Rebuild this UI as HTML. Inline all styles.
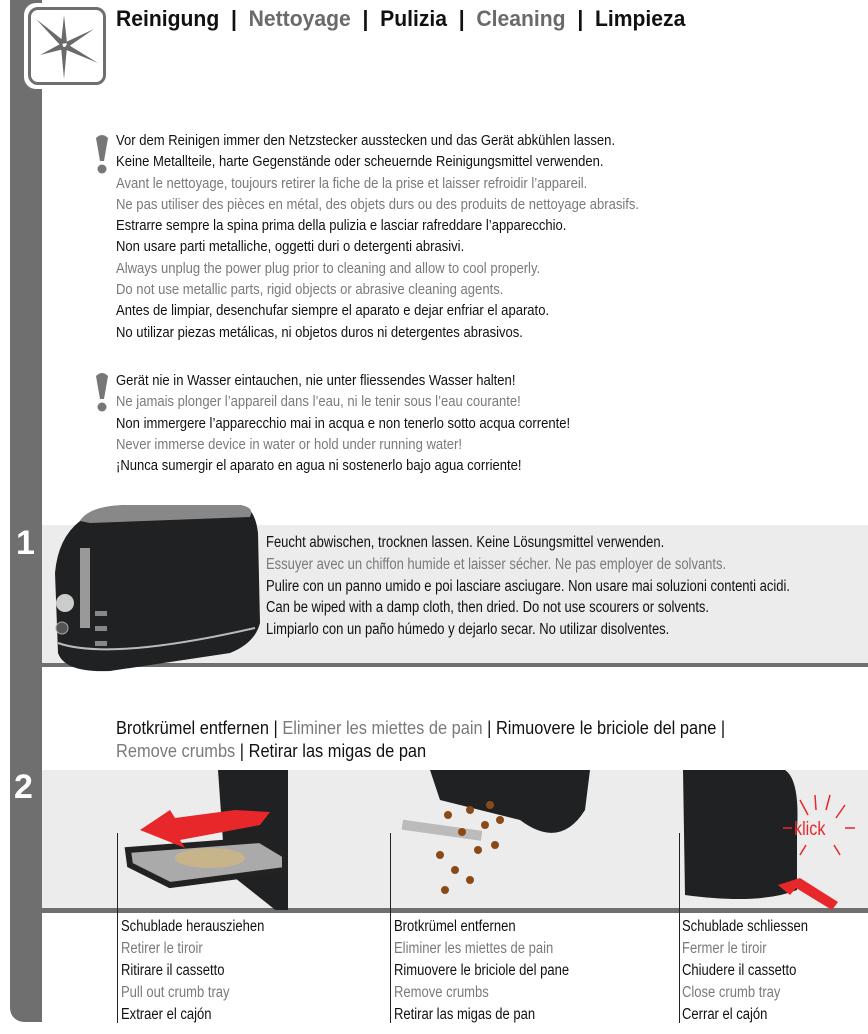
<!DOCTYPE html>
<html><head><meta charset="utf-8"><style>
*{margin:0;padding:0}
body{width:868px;height:1034px;position:relative;background:#fff;overflow:hidden;font-family:"Liberation Sans Narrow","Liberation Sans",sans-serif}
.a{position:absolute;white-space:nowrap}
.t{font-size:15px;line-height:21.3px;color:#111;transform-origin:0 0}
.g{color:#7a7a7a}
.h{font-size:22px;font-weight:bold;color:#111;top:6px;left:116px;transform:scaleX(0.96);transform-origin:0 0}
.h .g{color:#6a6a6a}
.s{font-size:18px;line-height:23px;color:#111;transform:scaleX(0.91);transform-origin:0 0}
.vl{position:absolute;width:1px;background:#222}
</style></head><body>
<div class="a" style="left:10px;top:0;width:32px;height:1022px;background:#6f6f6f;border-bottom-left-radius:14px"></div>
<div class="a" style="left:24px;top:3px;width:84px;height:86px;background:#fff;border-radius:12px"></div>
<div class="a" style="left:28px;top:7px;width:72px;height:72px;border:3px solid #6f6f6f;border-radius:10px;background:#fff"></div>
<svg class="a" style="left:28px;top:7px" width="78" height="78" viewBox="0 0 78 78">
<g fill="#6a6a6a"><polygon points="36,8 39,36 33,37"/><polygon points="36,72 33,40 39,40"/><polygon points="8,12 36,34 33,39"/><polygon points="70,56 39,37 36,42"/><polygon points="66,22 38,35 40,40"/><polygon points="12,48 34,36 36,42"/></g></svg>
<div class="a h">Reinigung &nbsp;|&nbsp; <span class="g">Nettoyage</span> &nbsp;|&nbsp; Pulizia &nbsp;|&nbsp; <span class="g">Cleaning</span> &nbsp;|&nbsp; Limpieza</div>

<svg class="a" style="left:94px;top:134px" width="16" height="42"><path d="M2,4 Q8,-2 14,4 L10,27 L6,27Z" fill="#777"/><circle cx="8" cy="35" r="4.5" fill="#777"/></svg>
<div class="a t" style="left:116px;top:130px;transform:scaleX(0.87)">Vor dem Reinigen immer den Netzstecker ausstecken und das Gerät abkühlen lassen.<br>Keine Metallteile, harte Gegenstände oder scheuernde Reinigungsmittel verwenden.<br><span class="g">Avant le nettoyage, toujours retirer la fiche de la prise et laisser refroidir l’appareil.<br>Ne pas utiliser des pièces en métal, des objets durs ou des produits de nettoyage abrasifs.</span><br>Estrarre sempre la spina prima della pulizia e lasciar rafreddare l’apparecchio.<br>Non usare parti metalliche, oggetti duri o detergenti abrasivi.<br><span class="g">Always unplug the power plug prior to cleaning and allow to cool properly.<br>Do not use metallic parts, rigid objects or abrasive cleaning agents.</span><br>Antes de limpiar, desenchufar siempre el aparato e dejar enfriar el aparato.<br>No utilizar piezas metálicas, ni objetos duros ni detergentes abrasivos.</div>

<svg class="a" style="left:94px;top:372px" width="16" height="42"><path d="M2,4 Q8,-2 14,4 L10,27 L6,27Z" fill="#777"/><circle cx="8" cy="35" r="4.5" fill="#777"/></svg>
<div class="a t" style="left:116px;top:370px;transform:scaleX(0.87)">Gerät nie in Wasser eintauchen, nie unter fliessendes Wasser halten!<br><span class="g">Ne jamais plonger l’appareil dans l’eau, ni le tenir sous l’eau courante!</span><br>Non immergere l’apparecchio mai in acqua e non tenerlo sotto acqua corrente!<br><span class="g">Never immerse device in water or hold under running water!</span><br>¡Nunca sumergir el aparato en agua ni sostenerlo bajo agua corriente!</div>

<div class="a" style="left:42px;top:525px;width:826px;height:139px;background:#ececec"></div>
<div class="a" style="left:42px;top:663px;width:826px;height:4px;background:#6f6f6f"></div>
<div class="a" style="left:16px;top:524px;font-size:34px;font-weight:bold;color:#fff">1</div>
<svg class="a" style="left:50px;top:493px" width="210" height="180" viewBox="0 0 210 180">
<path d="M30,28 Q40,12 80,12 L190,12 Q205,14 208,40 L210,130 Q205,150 180,160 L60,178 Q15,180 8,160 L5,80 Q8,45 30,28Z" fill="#1f2123"/>
<path d="M30,28 Q40,12 80,12 L190,12 Q205,14 200,24 L40,30Z" fill="#888"/>
<path d="M8,150 Q60,168 205,135" stroke="#bbb" stroke-width="2" fill="none"/>
<rect x="30" y="55" width="10" height="80" fill="#999"/>
<circle cx="15" cy="110" r="9" fill="#ccc"/><circle cx="12" cy="135" r="6" fill="#555" stroke="#aaa"/>
<rect x="45" y="118" width="12" height="5" fill="#888"/><rect x="45" y="133" width="12" height="5" fill="#888"/><rect x="45" y="148" width="12" height="5" fill="#888"/>
</svg>
<div class="a t" style="left:266px;top:532px;font-size:15.3px;line-height:21.8px;transform:scaleX(0.85)">Feucht abwischen, trocknen lassen. Keine Lösungsmittel verwenden.<br><span class="g">Essuyer avec un chiffon humide et laisser sécher. Ne pas employer de solvants.</span><br>Pulire con un panno umido e poi lasciare asciugare. Non usare mai soluzioni contenti acidi.<br>Can be wiped with a damp cloth, then dried. Do not use scourers or solvents.<br>Limpiarlo con un paño húmedo y dejarlo secar. No utilizar disolventes.</div>

<div class="a s" style="left:116px;top:717px">Brotkrümel entfernen | <span class="g">Eliminer les miettes de pain</span> | Rimuovere le briciole del pane |<br><span class="g">Remove crumbs</span> | Retirar las migas de pan</div>
<div class="a" style="left:42px;top:770px;width:826px;height:139px;background:#ececec"></div>
<div class="a" style="left:42px;top:908px;width:826px;height:5px;background:#6f6f6f"></div>
<div class="a" style="left:14px;top:768px;font-size:34px;font-weight:bold;color:#fff">2</div>
<svg class="a" style="left:0;top:770px" width="868" height="140">
<path d="M218,0 L288,0 L288,150 L225,100 Z" fill="#1f2123"/>
<path d="M128,80 L260,70 L285,85 L285,100 L170,115 L130,95Z" fill="#aaa" stroke="#222" stroke-width="6"/>
<ellipse cx="210" cy="88" rx="35" ry="10" fill="#c8b48a"/>
<polygon points="235,40 270,42 260,55 180,70 185,78 140,60 170,40 175,48" fill="#e8272a"/>
<path d="M430,0 L590,0 L585,40 Q560,80 520,50 L440,30Z" fill="#1f2123"/>
<rect x="402" y="55" width="80" height="10" fill="#bbb" transform="rotate(8 440 60)"/>
<g fill="#8a4a18"><circle cx="448" cy="45" r="4"/><circle cx="470" cy="40" r="4"/><circle cx="490" cy="35" r="4"/><circle cx="462" cy="62" r="4"/><circle cx="485" cy="55" r="4"/><circle cx="500" cy="50" r="4"/><circle cx="478" cy="80" r="4"/><circle cx="495" cy="75" r="4"/><circle cx="440" cy="85" r="4"/><circle cx="455" cy="100" r="4"/><circle cx="470" cy="110" r="4"/><circle cx="445" cy="120" r="4"/></g>
<path d="M683,0 L785,0 Q800,10 797,60 L797,120 Q760,135 685,125Z" fill="#1f2123"/>
<polygon points="778,115 800,108 838,132 832,140 796,118 790,125" fill="#e8272a"/>
<text x="794" y="65" fill="#e8272a" font-family="Liberation Sans Narrow,sans-serif" font-size="19" transform="translate(794 0) scale(0.85 1) translate(-794 0)">klick</text>
<g stroke="#e8272a" stroke-width="1.5"><line x1="800" y1="30" x2="808" y2="45"/><line x1="815" y1="25" x2="816" y2="40"/><line x1="830" y1="25" x2="826" y2="40"/><line x1="845" y1="35" x2="836" y2="48"/><line x1="783" y1="58" x2="792" y2="58"/><line x1="845" y1="58" x2="855" y2="58"/><line x1="800" y1="85" x2="806" y2="75"/><line x1="840" y1="85" x2="834" y2="75"/></g>
</svg>
<div class="vl" style="left:117px;top:833px;height:190px"></div>
<div class="vl" style="left:390px;top:833px;height:190px"></div>
<div class="vl" style="left:679px;top:833px;height:190px"></div>
<div class="a t" style="left:121px;top:916px;font-size:15.5px;line-height:22px;transform:scaleX(0.84)">Schublade herausziehen<br><span class="g">Retirer le tiroir</span><br>Ritirare il cassetto<br><span class="g">Pull out crumb tray</span><br>Extraer el cajón</div>
<div class="a t" style="left:394px;top:916px;font-size:15.5px;line-height:22px;transform:scaleX(0.84)">Brotkrümel entfernen<br><span class="g">Eliminer les miettes de pain</span><br>Rimuovere le briciole del pane<br><span class="g">Remove crumbs</span><br>Retirar las migas de pan</div>
<div class="a t" style="left:682px;top:916px;font-size:15.5px;line-height:22px;transform:scaleX(0.84)">Schublade schliessen<br><span class="g">Fermer le tiroir</span><br>Chiudere il cassetto<br><span class="g">Close crumb tray</span><br>Cerrar el cajón</div>
</body></html>
